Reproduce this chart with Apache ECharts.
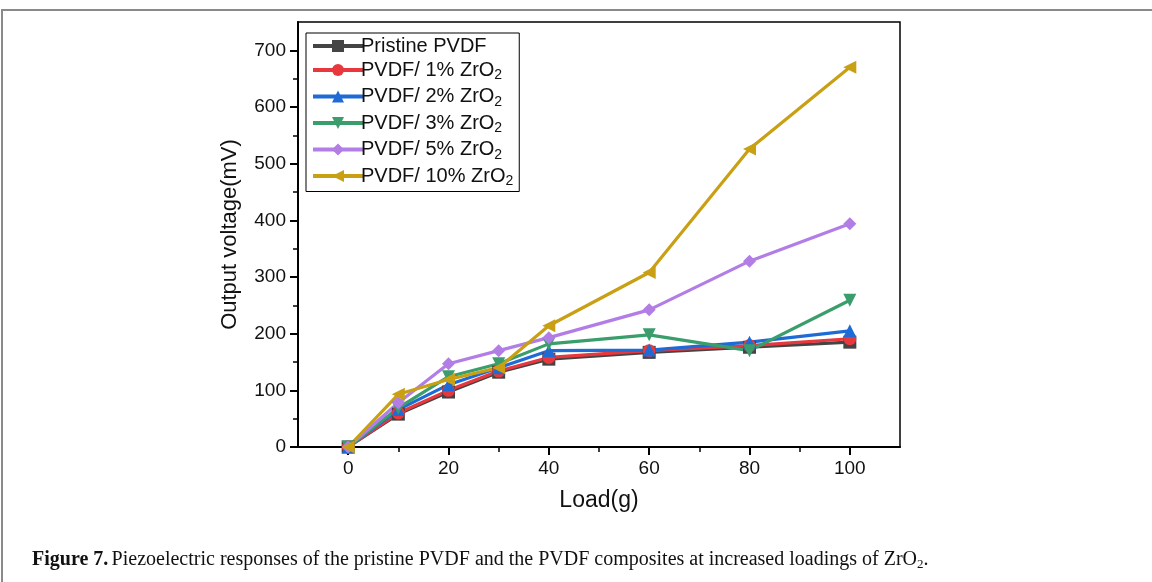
<!DOCTYPE html>
<html>
<head>
<meta charset="utf-8">
<script src="https://cdn.jsdelivr.net/npm/echarts@6/dist/echarts.min.js"></script>
<style>
  html, body { margin: 0; padding: 0; background: #fff; }
  #chart { width: 1152px; height: 582px; }
</style>
</head>
<body>
<div id="chart"></div>
<script>
'use strict';

// load values (g)
const loads = [0, 10, 20, 30, 40, 60, 80, 100];

// output voltage (mV)
const pristine = [0, 58, 97, 132, 155, 167, 176, 185];
const zr1 = [0, 60, 100, 134, 158, 170, 179, 191];
const zr2 = [0, 66, 110, 140, 170, 171, 185, 205];
const zr3 = [0, 69, 124, 147, 182, 198, 170, 259];
const zr5 = [0, 78, 147, 170, 193, 242, 328, 394];
const zr10 = [0, 93, 119, 140, 214, 308, 526, 670];

const xMajor = [0, 20, 40, 60, 80, 100];
const xMinor = [10, 30, 50, 70, 90];
const yMajor = [0, 100, 200, 300, 400, 500, 600, 700];
const yMinor = [50, 150, 250, 350, 450, 550, 650];

const FONT = "'Liberation Sans', Arial, sans-serif";
const SERIF = "'Liberation Serif', 'Times New Roman', serif";

const defs = [
    { name: 'Pristine PVDF', data: pristine, color: '#444444', symbol: 'rect', pct: null },
    { name: 'PVDF/ 1% ZrO2', data: zr1, color: '#e8383d', symbol: 'circle', pct: '1%' },
    { name: 'PVDF/ 2% ZrO2', data: zr2, color: '#1f6bd6', symbol: 'triangle', pct: '2%' },
    { name: 'PVDF/ 3% ZrO2', data: zr3, color: '#3a9d6c', symbol: 'path://M0,0 L10,0 L5,9 Z', pct: '3%' },
    { name: 'PVDF/ 5% ZrO2', data: zr5, color: '#b27ee6', symbol: 'diamond', pct: '5%' },
    { name: 'PVDF/ 10% ZrO2', data: zr10, color: '#c9a014', symbol: 'path://M0,5 L9,0 L9,10 Z', pct: '10%' }
];

const series = defs.map(function (d) {
    return {
        name: d.name,
        type: 'line',
        xAxisIndex: 0,
        yAxisIndex: 0,
        data: loads.map((x, i) => [x, d.data[i]]),
        symbol: d.symbol,
        symbolSize: 13,
        showAllSymbol: true,
        color: d.color,
        lineStyle: { width: 3.2, color: d.color },
        itemStyle: { color: d.color },
        emphasis: { disabled: true },
        animation: false
    };
});

const legendText = {};
defs.forEach(function (d) {
    legendText[d.name] = d.pct ? '{t|PVDF/ ' + d.pct + ' ZrO}{s|2}' : '{t|' + d.name + '}';
});

const chart = echarts.init(document.getElementById('chart'), null, { renderer: 'canvas' });

const option = {
    backgroundColor: '#fff',
    animation: false,
    grid: {
        left: 298, right: 252, top: 22, bottom: 135,
        show: true, borderColor: '#000', borderWidth: 1.5, backgroundColor: 'transparent'
    },
    legend: {
        left: 306, top: 33,
        orient: 'vertical',
        itemWidth: 50, itemHeight: 15, itemGap: 4,
        borderColor: '#000', borderWidth: 1, padding: [3, 6, 3, 5],
        backgroundColor: '#fff',
        selectedMode: false,
        lineStyle: { width: 4 },
        formatter: (name) => legendText[name],
        textStyle: {
            fontFamily: FONT, fontSize: 20, color: '#111', padding: [0, 0, 0, -7],
            rich: {
                t: { fontFamily: FONT, fontSize: 20, color: '#111' },
                s: { fontFamily: FONT, fontSize: 14, color: '#111', verticalAlign: 'bottom', padding: [11, 0, 0, 0] }
            }
        }
    },
    xAxis: [{
        type: 'value', min: -10, max: 110, position: 'bottom',
        name: 'Load(g)', nameLocation: 'middle', nameGap: 42,
        nameTextStyle: { fontFamily: FONT, fontSize: 23, color: '#111' },
        axisLine: { onZero: false, lineStyle: { color: '#000', width: 2 } },
        axisTick: { show: true, inside: false, length: 8, customValues: xMajor, lineStyle: { color: '#000', width: 2 } },
        axisLabel: { customValues: xMajor, fontFamily: FONT, fontSize: 19, color: '#111', margin: 12 },
        splitLine: { show: false }
    }, {
        type: 'value', min: -10, max: 110, position: 'bottom',
        axisLine: { show: false, onZero: false },
        axisTick: { show: true, length: 5, customValues: xMinor, lineStyle: { color: '#000', width: 1.5 } },
        axisLabel: { show: false },
        splitLine: { show: false }
    }],
    yAxis: [{
        type: 'value', min: 0, max: 750, position: 'left',
        name: 'Output voltage(mV)', nameLocation: 'middle', nameGap: 57, nameRotate: 90,
        nameTextStyle: { fontFamily: FONT, fontSize: 22, color: '#111' },
        axisLine: { show: true, onZero: false, lineStyle: { color: '#000', width: 2 } },
        axisTick: { show: true, length: 8, customValues: yMajor, lineStyle: { color: '#000', width: 2 } },
        axisLabel: { customValues: yMajor, fontFamily: FONT, fontSize: 19, color: '#111', margin: 12 },
        splitLine: { show: false }
    }, {
        type: 'value', min: 0, max: 750, position: 'left',
        axisLine: { show: false, onZero: false },
        axisTick: { show: true, length: 5, customValues: yMinor, lineStyle: { color: '#000', width: 1.5 } },
        axisLabel: { show: false },
        splitLine: { show: false }
    }],
    series: series,
    graphic: [{
        type: 'rect',
        shape: { x: 2, y: 10, width: 1170, height: 600 },
        style: { fill: 'none', stroke: '#8a8a8a', lineWidth: 2 },
        silent: true
    }, {
        type: 'text',
        left: 32, top: 550,
        style: {
            text: '{b|Figure 7.} {n|Piezoelectric responses of the pristine PVDF and the PVDF composites at increased loadings of ZrO}{s|2}{n|.}',
            rich: {
                b: { fontFamily: SERIF, fontSize: 20, fontWeight: 'bold', fill: '#111' },
                n: { fontFamily: SERIF, fontSize: 20, fill: '#111' },
                s: { fontFamily: SERIF, fontSize: 13, fill: '#111', verticalAlign: 'bottom', padding: [10, 0, 0, 0] }
            }
        }
    }]
};

chart.setOption(option);
</script>
</body>
</html>
